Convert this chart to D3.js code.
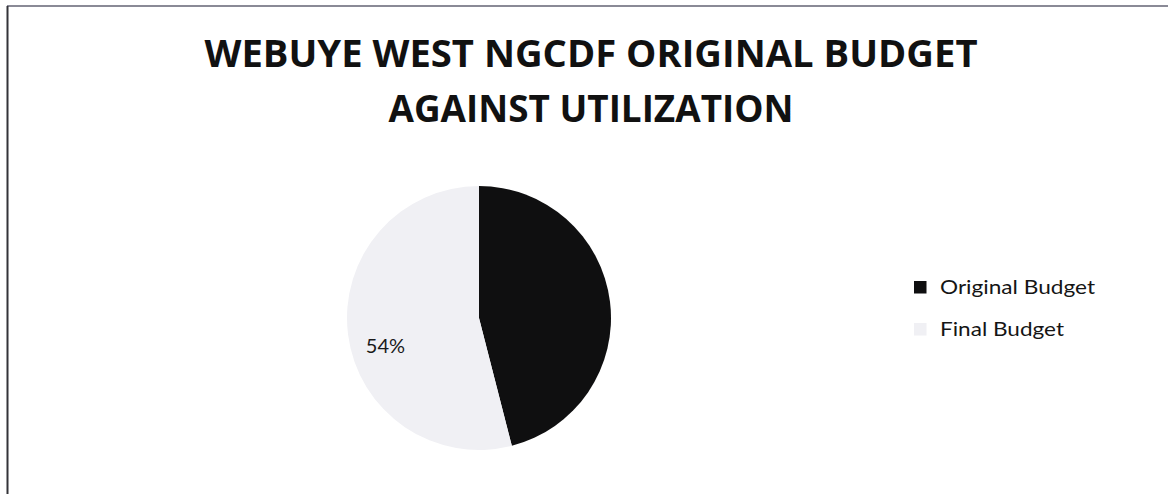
<!DOCTYPE html>
<html>
<head>
<meta charset="utf-8">
<script src="https://cdn.jsdelivr.net/npm/d3@7/dist/d3.min.js"></script>
<style>
  html, body { margin: 0; padding: 0; background: #ffffff; }
  svg { display: block; }
</style>
</head>
<body>
<svg id="chart" width="1168" height="494"></svg>
<script>
// ---- data ----
const categories = ["Original Budget", "Final Budget"];
const values = [46, 54];
const labelTexts = ["46%", "54%"];
const titleLines = ["WEBUYE WEST NGCDF ORIGINAL BUDGET", "AGAINST UTILIZATION"];

// ---- styles ----
const colors = ["#0f0f10", "#f0f0f4"];
const svg = d3.select("#chart");
const W = 1168, H = 494;

// frame (scanned box: top and left edges visible)
svg.append("line").attr("x1", 7).attr("y1", 6).attr("x2", W).attr("y2", 6)
  .attr("stroke", "#8a8a96").attr("stroke-width", 2);
svg.append("line").attr("x1", 7.5).attr("y1", 6).attr("x2", 7.5).attr("y2", H)
  .attr("stroke", "#333338").attr("stroke-width", 2);

// title
const titleY = [67, 122];
const titleW = [773, 405];
svg.selectAll("text.title").data(titleLines).enter().append("text")
  .attr("class", "title")
  .attr("x", 591)
  .attr("y", (d, i) => titleY[i])
  .attr("text-anchor", "middle")
  .attr("font-family", "'Open Sans', Lato, sans-serif")
  .attr("font-weight", "bold")
  .attr("font-size", 38)
  .attr("fill", "#111111")
  .attr("textLength", (d, i) => titleW[i])
  .attr("lengthAdjust", "spacingAndGlyphs")
  .text(d => d);

// pie
const cx = 479, cy = 318, R = 132;
const pie = d3.pie().sort(null).value(d => d)(values);
const arc = d3.arc().innerRadius(0).outerRadius(R);
const g = svg.append("g").attr("transform", `translate(${cx},${cy})`);
g.selectAll("path").data(pie).enter().append("path")
  .attr("d", arc)
  .attr("fill", (d, i) => colors[i]);

// data label (only the light slice's label is visible in the reference)
const labelArc = d3.arc().innerRadius(R * 0.73).outerRadius(R * 0.73);
const lp = labelArc.centroid(pie[1]);
g.append("text")
  .attr("x", lp[0] + 2)
  .attr("y", lp[1] + 15)
  .attr("text-anchor", "middle")
  .attr("dominant-baseline", "central")
  .attr("font-family", "Lato, 'Open Sans', sans-serif")
  .attr("font-size", 20)
  .attr("fill", "#1a1a1a")
  .text(labelTexts[1]);

// legend
const legX = 914, legY0 = 287, legStep = 42;
const legW = [155, 124];
const leg = svg.selectAll("g.leg").data(categories).enter().append("g")
  .attr("class", "leg")
  .attr("transform", (d, i) => `translate(${legX},${legY0 + i * legStep})`);
leg.append("rect").attr("x", 0).attr("y", -6).attr("width", 12.5).attr("height", 12.5)
  .attr("fill", (d, i) => colors[i]);
leg.append("text")
  .attr("x", 26).attr("y", 7)
  .attr("font-family", "Lato, 'Open Sans', sans-serif")
  .attr("font-size", 19)
  .attr("fill", "#151515")
  .attr("textLength", (d, i) => legW[i])
  .attr("lengthAdjust", "spacingAndGlyphs")
  .text(d => d);
</script>
</body>
</html>
